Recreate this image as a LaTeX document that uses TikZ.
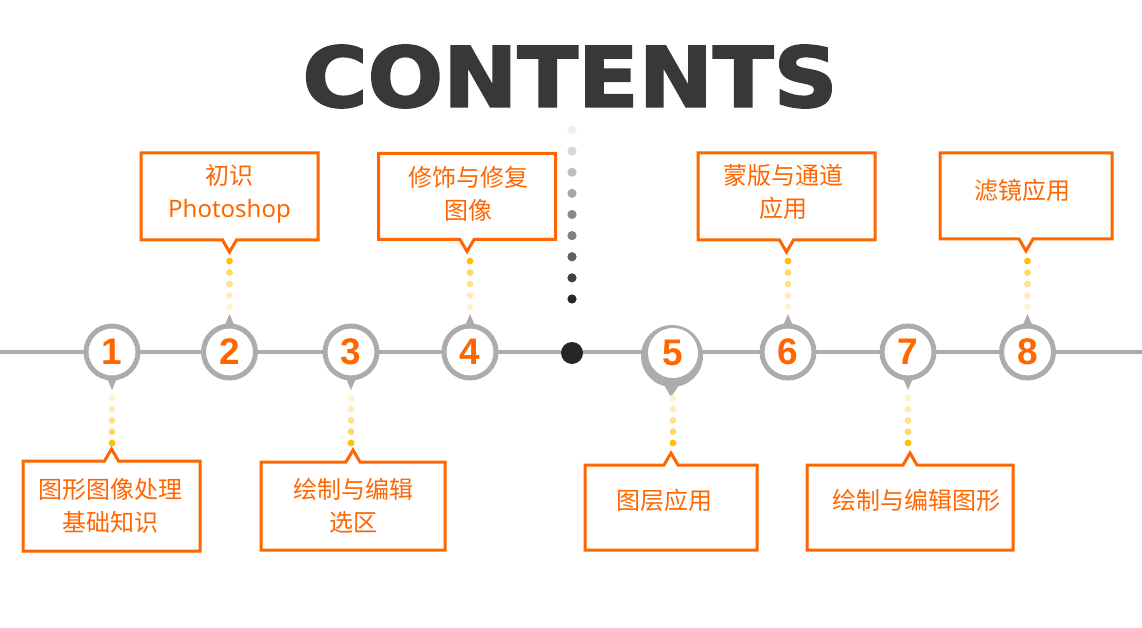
\documentclass[tikz,border=0pt]{standalone}
\usepackage{fontspec}
\usetikzlibrary{calc}
\newfontfamily\cjk{Noto Sans CJK SC}
\newfontfamily\latinfont{Noto Sans}
\newfontfamily\numfont{Liberation Sans}
\newfontfamily\titlefont{DejaVu Sans}[BoldFeatures={FakeBold=2.4,FakeStretch=1.07}]
\definecolor{orng}{HTML}{FF6600}
\definecolor{linegray}{HTML}{AFABAB}
\definecolor{titlegray}{HTML}{3A3836}
\definecolor{centerdot}{HTML}{262626}
\definecolor{dotA}{HTML}{FFF2CC}
\definecolor{dotB}{HTML}{FFECB8}
\definecolor{dotC}{HTML}{FFE08C}
\definecolor{dotD}{HTML}{FFD966}
\definecolor{dotE}{HTML}{FFC000}
\definecolor{gA}{HTML}{F0F0F0}
\definecolor{gB}{HTML}{D9D9D9}
\definecolor{gC}{HTML}{BFBFBF}
\definecolor{gD}{HTML}{A6A6A6}
\definecolor{gE}{HTML}{888888}
\definecolor{gF}{HTML}{808080}
\definecolor{gG}{HTML}{5F5F5F}
\definecolor{gH}{HTML}{404040}
\definecolor{gI}{HTML}{262626}
\tikzset{
  timeline/.style={draw=linegray, line width=4pt},
  numcirc/.style={circle, draw=linegray, line width=5pt, fill=white, minimum size=52pt,
    inner sep=0pt, outer sep=0pt, text=orng, font=\numfont\bfseries\fontsize{37}{37}\selectfont},
  boxnode/.style={rectangle, draw=none, inner sep=0pt, outer sep=0pt},
  boxframe/.style={draw=orng, line width=3pt, line join=miter},
  lbl/.style={text=orng, font=\cjk\fontsize{24}{33}\selectfont, align=center, inner sep=0pt},
}
\newcommand\calloutNotchDown[1]{%
  \draw[boxframe] (#1.north west) -- (#1.north east) -- (#1.south east)
    -- ($(#1.south)+(7,0)$) -- ($(#1.south)+(0,12)$) -- ($(#1.south)+(-7,0)$)
    -- (#1.south west) -- cycle;}
\newcommand\calloutNotchUp[1]{%
  \draw[boxframe] (#1.south west) -- (#1.south east) -- (#1.north east)
    -- ($(#1.north)+(7,0)$) -- ($(#1.north)+(0,-12)$) -- ($(#1.north)+(-7,0)$)
    -- (#1.north west) -- cycle;}
\newcommand\pinDown[1]{%
  \fill[linegray] ($(#1.south)+(-6,-2)$) -- ($(#1.south)+(6,-2)$) -- ($(#1.south)+(0,12)$) -- cycle;}
\newcommand\pinUp[1]{%
  \fill[linegray] ($(#1.north)+(-6,2)$) -- ($(#1.north)+(6,2)$) -- ($(#1.north)+(0,-12)$) -- cycle;}
\newcommand\chainDown[1]{%
  \foreach \i/\c in {0/dotA,1/dotB,2/dotC,3/dotD,4/dotE}
    \fill[\c] ($(#1.south)+(0,20+11.25*\i)$) circle (3.4pt);}
\newcommand\chainUp[1]{%
  \foreach \i/\c in {0/dotA,1/dotB,2/dotC,3/dotD,4/dotE}
    \fill[\c] ($(#1.north)+(0,-19-11.5*\i)$) circle (3.4pt);}
\begin{document}
\begin{tikzpicture}[x=1pt,y=-1pt]
\useasboundingbox[fill=white] (0,0) rectangle (1142,628);

% title
\node[text=titlegray, font=\titlefont\bfseries\fontsize{83}{83}\selectfont, inner sep=0pt] (title) at (570,76.5) {CONTENTS};

% timeline
\coordinate (L) at (0,352);
\coordinate (R) at (1142,352);
\draw[timeline] (L) -- (R);

% center dot and gray chain
\node[circle, fill=centerdot, minimum size=22pt, inner sep=0pt] (cdot) at (572,353) {};
\foreach \i/\c in {0/gA,1/gB,2/gC,3/gD,4/gE,5/gF,6/gG,7/gH,8/gI}
  \fill[\c] ($(cdot)+(0,-223+21.125*\i)$) circle (4.6pt);

% circles
\node[numcirc] (c1) at (112,352) {1};
\node[numcirc] (c2) at (229.5,352) {2};
\node[numcirc] (c3) at (351,352) {3};
\node[numcirc] (c4) at (470,352) {4};
\fill[linegray] (672,356) circle (31pt);
\fill[linegray] (660,378) -- (684,378) -- (671,397) -- cycle;
\node[numcirc, draw=none, minimum size=50pt] (c5) at (673,353) {5};
\node[numcirc] (c6) at (788,352) {6};
\node[numcirc] (c7) at (908,352) {7};
\node[numcirc] (c8) at (1027.5,352) {8};

\pinDown{c1} \pinUp{c2} \pinDown{c3} \pinUp{c4}
\pinUp{c6} \pinDown{c7} \pinUp{c8}

% boxes
\node[boxnode, minimum width=177pt, minimum height=87pt] (b2) at (229.5,196.5) {};
\node[boxnode, minimum width=177pt, minimum height=86pt] (b4) at (467,196.5) {};
\node[boxnode, minimum width=177pt, minimum height=87pt] (b6) at (786.5,196.5) {};
\node[boxnode, minimum width=172pt, minimum height=86pt] (b8) at (1026,196) {};
\node[boxnode, minimum width=177pt, minimum height=90pt] (b1) at (111.5,506) {};
\node[boxnode, minimum width=184pt, minimum height=88pt] (b3) at (353,506) {};
\node[boxnode, minimum width=172pt, minimum height=85pt] (b5) at (671,507.5) {};
\node[boxnode, minimum width=206pt, minimum height=85pt] (b7) at (910,507.5) {};

\calloutNotchDown{b2} \calloutNotchDown{b4} \calloutNotchDown{b6} \calloutNotchDown{b8}
\calloutNotchUp{b1} \calloutNotchUp{b3} \calloutNotchUp{b5} \calloutNotchUp{b7}

% dotted connectors
\chainDown{c1} \chainUp{c2} \chainDown{c3} \chainUp{c4}
\chainDown{c5} \chainUp{c6} \chainDown{c7} \chainUp{c8}

% labels
\node[lbl] (t2) at (229.5,193.5) {初识\\{\latinfont Photoshop}};
\node[lbl] (t4) at (468,193.5) {修饰与修复\\图像};
\node[lbl] (t6) at (783,191.5) {蒙版与通道\\应用};
\node[lbl] (t8) at (1022,190) {滤镜应用};
\node[lbl] (t1) at (110,506) {图形图像处理\\基础知识};
\node[lbl] (t3) at (353,506) {绘制与编辑\\选区};
\node[lbl] (t5) at (664,500) {图层应用};
\node[lbl] (t7) at (916,500) {绘制与编辑图形};
\end{tikzpicture}
\end{document}
